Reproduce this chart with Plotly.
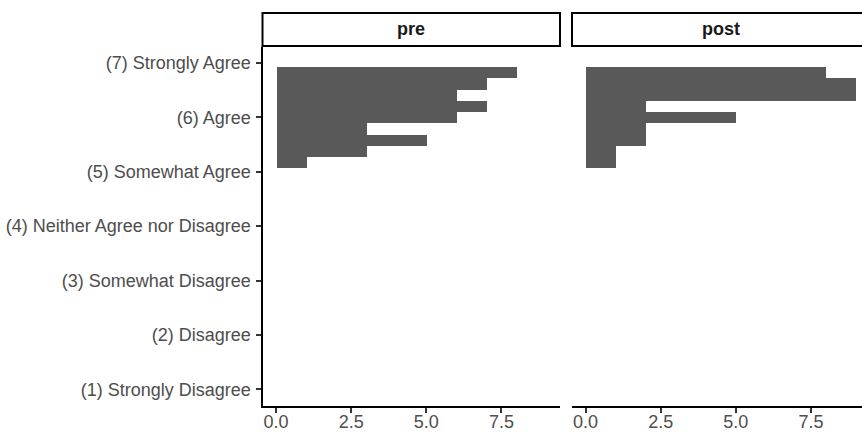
import plotly.graph_objects as go

# Histogram bins (midpoints on the 1-7 agreement scale) and counts per facet
bin_mid = [5.172, 5.379, 5.586, 5.793, 6.0, 6.207, 6.414, 6.621, 6.828]
bin_width = 0.2069
pre_counts = [1, 3, 5, 3, 6, 7, 6, 7, 8]
post_counts = [1, 1, 2, 2, 5, 2, 9, 9, 8]

facets = ["pre", "post"]
likert_vals = [1, 2, 3, 4, 5, 6, 7]
likert_labels = [
    "(1) Strongly Disagree",
    "(2) Disagree",
    "(3) Somewhat Disagree",
    "(4) Neither Agree nor Disagree",
    "(5) Somewhat Agree",
    "(6) Agree",
    "(7) Strongly Agree",
]

W, H = 862, 432
FONT = "Liberation Sans, Arial, sans-serif"
BAR = "#595959"
FS = 18

def px(x):
    return x / W

def py(y):
    return 1 - y / H

# panel geometry (pixels)
pre_l, pre_r = 262.5, 560.0
post_l = 572.0
top, bottom = 46.5, 405.7
unit_px = (pre_r - pre_l) / 9.9
post_hi = (W - post_l) / unit_px - 0.45

fig = go.Figure()
fig.add_trace(go.Bar(x=pre_counts, y=bin_mid, width=bin_width, orientation="h",
                     marker=dict(color=BAR, line=dict(width=0)),
                     xaxis="x", yaxis="y", showlegend=False, hoverinfo="x+y"))
fig.add_trace(go.Bar(x=post_counts, y=bin_mid, width=bin_width, orientation="h",
                     marker=dict(color=BAR, line=dict(width=0)),
                     xaxis="x2", yaxis="y2", showlegend=False, hoverinfo="x+y"))

xcommon = dict(showgrid=False, zeroline=False, showline=True, linecolor="black",
               linewidth=2, ticks="outside", ticklen=5, tickwidth=1.8,
               tickcolor="#333333", tickvals=[0, 2.5, 5, 7.5],
               ticktext=["0.0", "2.5", "5.0", "7.5"],
               tickfont=dict(family=FONT, size=FS, color="#4D4D4D"),
               ticklabelstandoff=-6, automargin=False)

fig.update_layout(
    template="none",
    width=W, height=H, autosize=False,
    margin=dict(l=0, r=0, t=0, b=0, pad=0),
    paper_bgcolor="white", plot_bgcolor="white",
    bargap=0,
    xaxis=dict(domain=[px(pre_l), px(pre_r)], range=[-0.45, 9.45], anchor="y", **xcommon),
    xaxis2=dict(domain=[px(post_l), 1], range=[-0.45, post_hi], anchor="y2", **xcommon),
    yaxis=dict(domain=[py(bottom), py(top)], range=[0.7, 7.3], anchor="x",
               tickvals=likert_vals, ticktext=likert_labels,
               showgrid=False, zeroline=False, showline=True, linecolor="black",
               linewidth=2, ticks="outside", ticklen=5, tickwidth=1.8,
               tickcolor="#333333",
               tickfont=dict(family=FONT, size=FS, color="#4D4D4D"),
               ticklabelstandoff=1, automargin=False),
    yaxis2=dict(domain=[py(bottom), py(top)], range=[0.7, 7.3], anchor="x2",
                matches="y", showgrid=False, zeroline=False, showline=False,
                ticks="", showticklabels=False, automargin=False),
)

# facet strips
strip_top, strip_bot = 13.0, 46.0
strips = [(pre_l, pre_r), (post_l, post_l + (pre_r - pre_l))]
for (x0, x1), name in zip(strips, facets):
    fig.add_shape(type="rect", xref="paper", yref="paper",
                  x0=px(x0), x1=px(x1), y0=py(strip_bot), y1=py(strip_top),
                  line=dict(color="black", width=2), fillcolor="white", layer="above")
    fig.add_annotation(xref="paper", yref="paper", x=px((x0 + x1) / 2),
                       y=py((strip_top + strip_bot) / 2), text="<b>%s</b>" % name,
                       showarrow=False, xanchor="center", yanchor="middle",
                       font=dict(family=FONT, size=FS, color="#1A1A1A"))

fig.write_html("out.html")
